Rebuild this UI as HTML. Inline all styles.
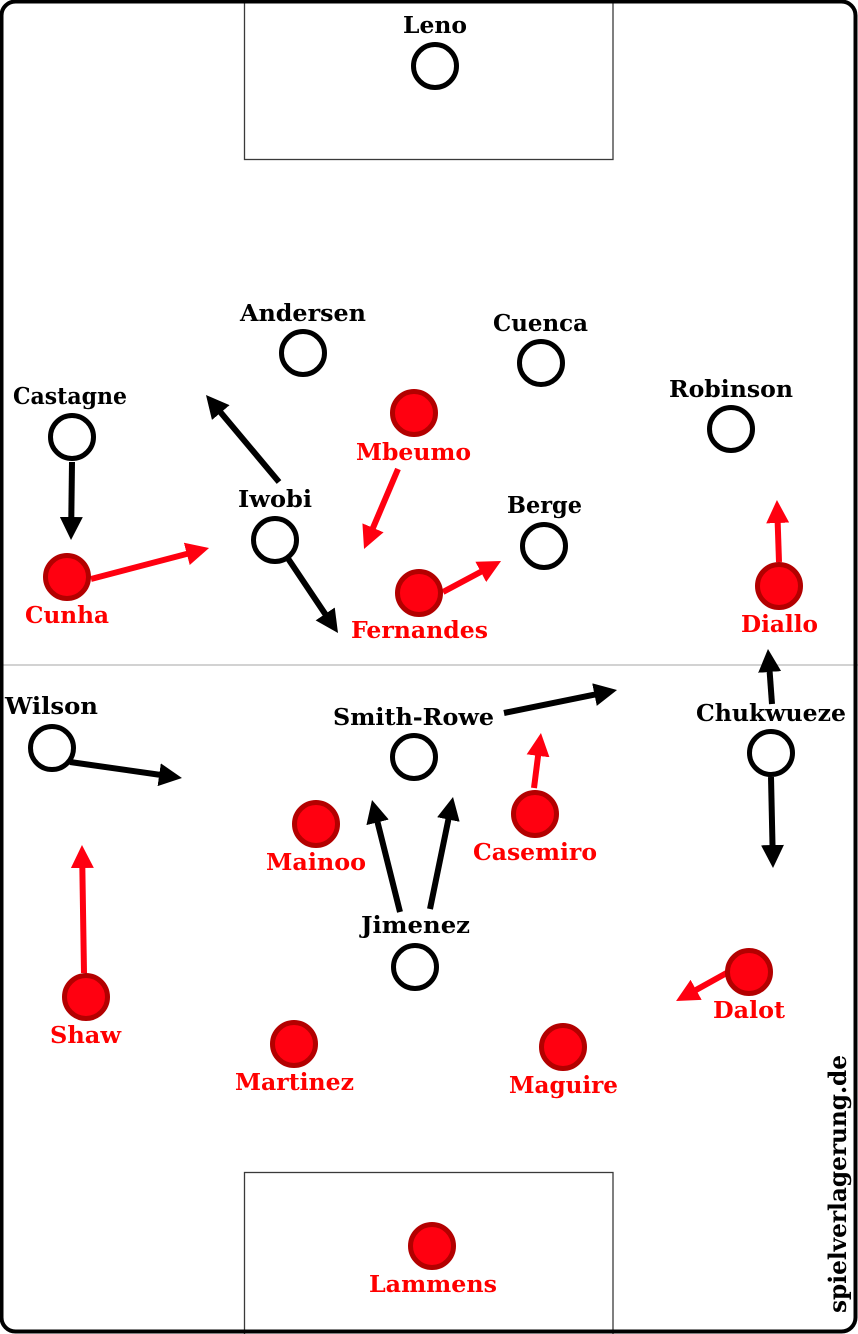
<!DOCTYPE html>
<html>
<head>
<meta charset="utf-8">
<style>
  html,body{margin:0;padding:0;background:#fff;}
  svg{display:block;}
  text{font-family:"DejaVu Serif","Liberation Serif",serif;font-weight:bold;font-size:23.5px;}
  .b{fill:#000;}
  .r{fill:#ff0000;}
</style>
</head>
<body>
<svg width="858" height="1334" viewBox="0 0 858 1334" xmlns="http://www.w3.org/2000/svg">
  <defs>
    <marker id="hb" markerUnits="userSpaceOnUse" markerWidth="23" markerHeight="23" refX="9" refY="11.5" orient="auto">
      <path d="M0,0 L23,11.5 L0,23 z" fill="#000"/>
    </marker>
    <marker id="hr" markerUnits="userSpaceOnUse" markerWidth="23" markerHeight="23" refX="9" refY="11.5" orient="auto">
      <path d="M0,0 L23,11.5 L0,23 z" fill="#ff0010"/>
    </marker>
  </defs>

  <rect x="0" y="0" width="858" height="1334" fill="#fff"/>
  <!-- halfway line -->
  <line x1="0" y1="665" x2="858" y2="665" stroke="#c4c4c4" stroke-width="1.5"/>
  <!-- penalty boxes -->
  <rect x="244.5" y="-2" width="368.5" height="161.5" fill="none" stroke="#3a3a3a" stroke-width="1.3"/>
  <rect x="244.5" y="1172.5" width="368.5" height="165" fill="none" stroke="#3a3a3a" stroke-width="1.3"/>
  <!-- outer border -->
  <rect x="1.5" y="1.5" width="854" height="1330" rx="14" ry="14" fill="none" stroke="#000" stroke-width="4"/>

  <!-- black arrows -->
  <g stroke="#000" stroke-width="6" fill="none" marker-end="url(#hb)">
    <line x1="72" y1="462" x2="71.2" y2="526"/>
    <line x1="279" y1="482" x2="215" y2="405.7"/>
    <line x1="287" y1="557" x2="330.2" y2="621.4"/>
    <line x1="772" y1="704" x2="769" y2="663"/>
    <line x1="771" y1="777" x2="772.7" y2="854"/>
    <line x1="70" y1="762" x2="168.1" y2="776"/>
    <line x1="504" y1="713" x2="603.3" y2="692.8"/>
    <line x1="400" y1="912" x2="375.4" y2="813.6"/>
    <line x1="430" y1="909" x2="450.2" y2="810.7"/>
  </g>
  <!-- red arrows -->
  <g stroke="#ff0010" stroke-width="6" fill="none" marker-end="url(#hr)">
    <line x1="91" y1="579" x2="195.5" y2="551.6"/>
    <line x1="398" y1="469" x2="369.5" y2="536.1"/>
    <line x1="443" y1="592" x2="488.7" y2="567.6"/>
    <line x1="779" y1="562" x2="777.4" y2="514"/>
    <line x1="534" y1="788" x2="539.2" y2="746.9"/>
    <line x1="84" y1="973" x2="82.2" y2="859"/>
    <line x1="732" y1="970" x2="688.3" y2="994.2"/>
  </g>

  <!-- black players -->
  <g fill="#fff" stroke="#000" stroke-width="5">
    <circle cx="435" cy="66" r="21.5"/>
    <circle cx="303" cy="353" r="21.5"/>
    <circle cx="541" cy="363" r="21.5"/>
    <circle cx="72" cy="437" r="21.5"/>
    <circle cx="731" cy="429" r="21.5"/>
    <circle cx="275" cy="540" r="21.5"/>
    <circle cx="544" cy="546" r="21.5"/>
    <circle cx="52" cy="748" r="21.5"/>
    <circle cx="414" cy="757" r="21.5"/>
    <circle cx="771" cy="753" r="21.5"/>
    <circle cx="415" cy="967" r="21.5"/>
  </g>
  <!-- red players -->
  <g fill="#ff0010" stroke="#b30000" stroke-width="5">
    <circle cx="414" cy="413" r="21.5"/>
    <circle cx="67" cy="577" r="21.5"/>
    <circle cx="419" cy="593" r="21.5"/>
    <circle cx="779" cy="586" r="21.5"/>
    <circle cx="316" cy="824" r="21.5"/>
    <circle cx="535" cy="814" r="21.5"/>
    <circle cx="86" cy="997" r="21.5"/>
    <circle cx="749" cy="972" r="21.5"/>
    <circle cx="294" cy="1044" r="21.5"/>
    <circle cx="563" cy="1047" r="21.5"/>
    <circle cx="432" cy="1246" r="21.5"/>
  </g>

  <!-- black labels -->
  <g class="b" text-anchor="middle">
    <text x="435" y="33" textLength="64" lengthAdjust="spacingAndGlyphs">Leno</text>
    <text x="303" y="321" textLength="126" lengthAdjust="spacingAndGlyphs">Andersen</text>
    <text x="540.5" y="331" textLength="95" lengthAdjust="spacingAndGlyphs">Cuenca</text>
    <text x="70" y="404" textLength="114" lengthAdjust="spacingAndGlyphs">Castagne</text>
    <text x="731" y="397" textLength="124" lengthAdjust="spacingAndGlyphs">Robinson</text>
    <text x="275" y="507" textLength="74" lengthAdjust="spacingAndGlyphs">Iwobi</text>
    <text x="544.5" y="513" textLength="75" lengthAdjust="spacingAndGlyphs">Berge</text>
    <text x="51.5" y="714" textLength="93" lengthAdjust="spacingAndGlyphs">Wilson</text>
    <text x="413.5" y="725" textLength="161" lengthAdjust="spacingAndGlyphs">Smith-Rowe</text>
    <text x="771" y="721" textLength="150" lengthAdjust="spacingAndGlyphs">Chukwueze</text>
    <text x="415.5" y="933" textLength="109" lengthAdjust="spacingAndGlyphs">Jimenez</text>
  </g>
  <!-- red labels -->
  <g class="r" text-anchor="middle">
    <text x="413.5" y="460" textLength="115" lengthAdjust="spacingAndGlyphs">Mbeumo</text>
    <text x="67" y="623" textLength="84" lengthAdjust="spacingAndGlyphs">Cunha</text>
    <text x="419.5" y="638" textLength="137" lengthAdjust="spacingAndGlyphs">Fernandes</text>
    <text x="779.5" y="632" textLength="77" lengthAdjust="spacingAndGlyphs">Diallo</text>
    <text x="535" y="860" textLength="124" lengthAdjust="spacingAndGlyphs">Casemiro</text>
    <text x="316" y="870" textLength="100" lengthAdjust="spacingAndGlyphs">Mainoo</text>
    <text x="85.5" y="1043" textLength="71" lengthAdjust="spacingAndGlyphs">Shaw</text>
    <text x="749" y="1018" textLength="72" lengthAdjust="spacingAndGlyphs">Dalot</text>
    <text x="294.5" y="1090" textLength="119" lengthAdjust="spacingAndGlyphs">Martinez</text>
    <text x="563.5" y="1093" textLength="109" lengthAdjust="spacingAndGlyphs">Maguire</text>
    <text x="433" y="1292" textLength="128" lengthAdjust="spacingAndGlyphs">Lammens</text>
  </g>

  <!-- watermark -->
  <text class="b" transform="translate(846,1184) rotate(-90)" text-anchor="middle" style="font-size:24px" textLength="258" lengthAdjust="spacingAndGlyphs">spielverlagerung.de</text>
</svg>
</body>
</html>
